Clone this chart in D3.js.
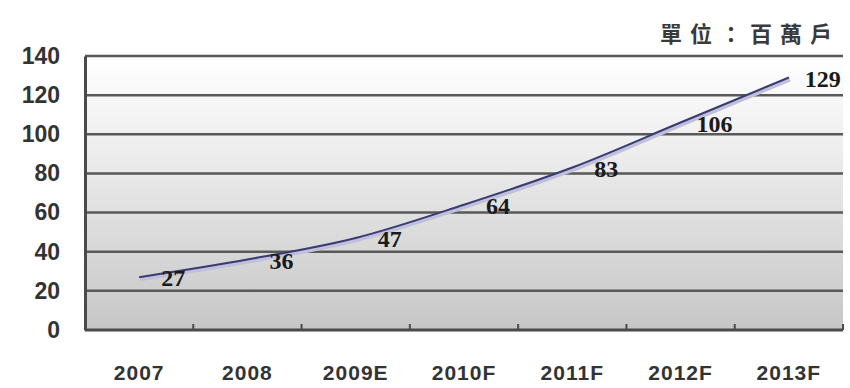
<!DOCTYPE html>
<html>
<head>
<meta charset="utf-8">
<script src="https://cdn.jsdelivr.net/npm/d3@7"></script>
<style>
body { margin: 0; background: #fff; }
svg text { font-family: "Liberation Sans", Arial, sans-serif; }
</style>
</head>
<body>
<div id="chart"></div>
<script>
var years = ["2007", "2008", "2009E", "2010F", "2011F", "2012F", "2013F"];
var households = [27, 36, 47, 64, 83, 106, 129];
var yTicks = [0, 20, 40, 60, 80, 100, 120, 140];
var unitLabel = "單位：百萬戶";

var w = 850, h = 388;
var plotLeft = 85, plotRight = 843, plotTop = 56, plotBottom = 330;

var svg = d3.select("#chart").append("svg")
	.attr("width", w)
	.attr("height", h);

var xScale = d3.scaleBand()
	.domain(years)
	.range([plotLeft, plotRight]);

var yScale = d3.scaleLinear()
	.domain([0, 140])
	.range([plotBottom, plotTop]);

// background gradient of plot area
var grad = svg.append("defs").append("linearGradient")
	.attr("id", "bg")
	.attr("x1", 0).attr("y1", 0).attr("x2", 0).attr("y2", 1);
grad.append("stop").attr("offset", "0%").attr("stop-color", "#ffffff");
grad.append("stop").attr("offset", "35%").attr("stop-color", "#ededed");
grad.append("stop").attr("offset", "100%").attr("stop-color", "#c6c6c6");

svg.append("rect")
	.attr("x", plotLeft).attr("y", plotTop)
	.attr("width", plotRight - plotLeft).attr("height", plotBottom - plotTop)
	.attr("fill", "url(#bg)");

// grid lines
svg.selectAll("line.grid")
	.data(yTicks.slice(1))
	.enter()
	.append("line")
	.attr("class", "grid")
	.attr("x1", plotLeft).attr("x2", plotRight)
	.attr("y1", function(d) { return yScale(d); })
	.attr("y2", function(d) { return yScale(d); })
	.attr("stroke", "#595959")
	.attr("stroke-width", 2.5);

// y axis
var yAxis = d3.axisLeft(yScale).tickValues(yTicks).tickSize(0).tickPadding(25);
var gy = svg.append("g")
	.attr("transform", "translate(" + plotLeft + ",0)")
	.call(yAxis);
gy.select(".domain").attr("stroke", "#4a4a4a").attr("stroke-width", 3);
gy.selectAll("text")
	.style("font-size", "23px")
	.style("font-weight", "bold")
	.attr("fill", "#333");

// x axis: ticks at category boundaries, pointing up
var boundaries = years.map(function(d) { return xScale(d) + xScale.bandwidth(); });
var gx = svg.append("g")
	.attr("transform", "translate(0," + plotBottom + ")");
gx.append("line")
	.attr("x1", plotLeft).attr("x2", plotRight)
	.attr("stroke", "#4a4a4a").attr("stroke-width", 3);
gx.selectAll("line.tick")
	.data(boundaries)
	.enter()
	.append("line")
	.attr("class", "tick")
	.attr("x1", function(d) { return d; })
	.attr("x2", function(d) { return d; })
	.attr("y1", 0).attr("y2", -6)
	.attr("stroke", "#4a4a4a").attr("stroke-width", 2);
gx.selectAll("text")
	.data(years)
	.enter()
	.append("text")
	.attr("x", function(d) { return xScale(d) + xScale.bandwidth() / 2; })
	.attr("y", 50)
	.attr("text-anchor", "middle")
	.style("font-size", "21px")
	.style("font-weight", "bold")
	.style("letter-spacing", "1px")
	.attr("fill", "#333")
	.text(function(d) { return d; });

// curve
var line = d3.line()
	.x(function(d, i) { return xScale(years[i]) + xScale.bandwidth() / 2; })
	.y(function(d) { return yScale(d); })
	.curve(d3.curveMonotoneX);

svg.append("path")
	.datum(households)
	.attr("d", line)
	.attr("fill", "none")
	.attr("stroke", "#c0c0dc")
	.attr("stroke-width", 4)
	.attr("transform", "translate(1,2)");

svg.append("path")
	.datum(households)
	.attr("d", line)
	.attr("fill", "none")
	.attr("stroke", "#3a3a70")
	.attr("stroke-width", 2);

// value labels
svg.selectAll("text.val")
	.data(households)
	.enter()
	.append("text")
	.attr("class", "val")
	.attr("x", function(d, i) { return xScale(years[i]) + xScale.bandwidth() / 2 + 34; })
	.attr("y", function(d) { return yScale(d) + 9; })
	.attr("text-anchor", "middle")
	.style("font-family", "'Liberation Serif', 'Times New Roman', serif")
	.style("font-size", "24px")
	.style("font-weight", "bold")
	.attr("fill", "#1a1a1a")
	.text(function(d) { return d; });

// unit label
svg.append("text")
	.attr("x", 840)
	.attr("y", 42)
	.attr("text-anchor", "end")
	.style("font-family", "'Noto Sans CJK TC', sans-serif")
	.style("font-size", "22px")
	.style("font-weight", "bold")
	.style("letter-spacing", "8px")
	.attr("fill", "#3a3a3a")
	.text(unitLabel);
</script>
</body>
</html>
